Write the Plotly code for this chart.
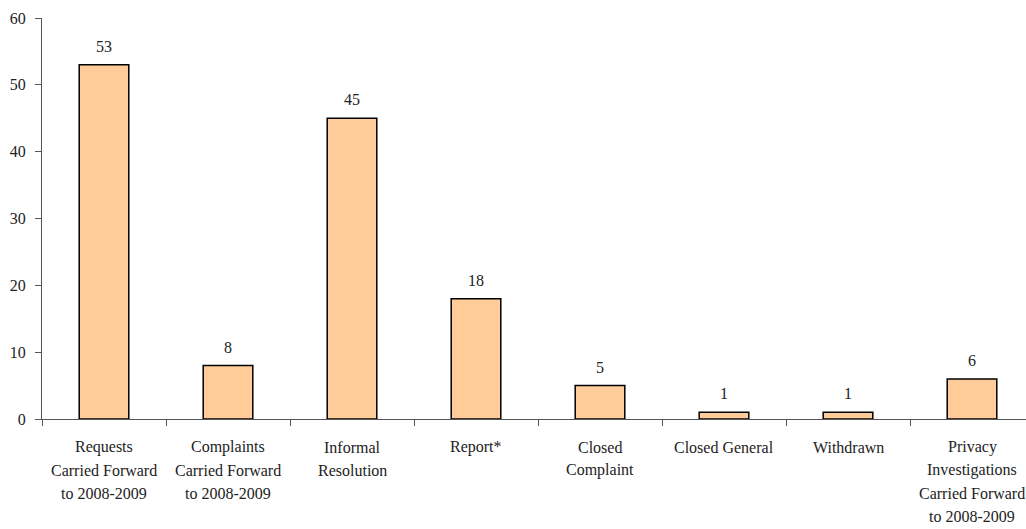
import plotly.graph_objects as go

categories = [
    "Requests<br>Carried Forward<br>to 2008-2009",
    "Complaints<br>Carried Forward<br>to 2008-2009",
    "Informal<br>Resolution",
    "Report*",
    "Closed<br>Complaint",
    "Closed General",
    "Withdrawn",
    "Privacy<br>Investigations<br>Carried Forward<br>to 2008-2009",
]
values = [53, 8, 45, 18, 5, 1, 1, 6]
y_ticks = [0, 10, 20, 30, 40, 50, 60]

FONT = "Liberation Serif, DejaVu Serif, serif"
TEXT = "#222222"
AXIS = "#555555"
SIZE = 16

cat_ids = list(range(len(categories)))

fig = go.Figure(
    go.Bar(
        x=cat_ids,
        y=values,
        width=0.4,
        marker=dict(color="#FFCC99", line=dict(color="#000000", width=1.5)),
        hoverinfo="skip",
    )
)

annotations = []
# value labels above the bars
for i, v in zip(cat_ids, values):
    annotations.append(dict(
        x=i, y=v, xref="x", yref="y", text=str(v), showarrow=False,
        yanchor="bottom", yshift=8, font=dict(family=FONT, size=SIZE, color=TEXT),
    ))
# multi-line category labels with generous line spacing
for i, label in zip(cat_ids, categories):
    for j, line in enumerate(label.split("<br>")):
        annotations.append(dict(
            x=i, y=0, xref="x", yref="y", text=line, showarrow=False,
            yanchor="middle", yshift=-28 - 23 * j,
            font=dict(family=FONT, size=SIZE, color=TEXT),
        ))

fig.update_layout(
    width=1026,
    height=529,
    margin=dict(l=42, r=0, t=18, b=110),
    paper_bgcolor="white",
    plot_bgcolor="white",
    showlegend=False,
    annotations=annotations,
    font=dict(family=FONT, size=SIZE, color=TEXT),
    xaxis=dict(
        range=[-0.5, -0.5 + 984 / 124],
        tickmode="array",
        tickvals=[i - 0.5 for i in cat_ids],
        ticktext=[""] * len(cat_ids),
        ticks="outside",
        ticklen=6,
        tickcolor=AXIS,
        showline=True,
        linecolor=AXIS,
        linewidth=1,
        showgrid=False,
        zeroline=False,
        fixedrange=True,
    ),
    yaxis=dict(
        range=[0, 60],
        tickmode="array",
        tickvals=y_ticks,
        ticks="outside",
        ticklen=6,
        tickcolor=AXIS,
        ticklabelstandoff=6,
        showline=True,
        linecolor=AXIS,
        linewidth=1,
        showgrid=False,
        zeroline=False,
        tickfont=dict(family=FONT, size=SIZE, color=TEXT),
        fixedrange=True,
    ),
)

fig.write_html("out.html")
